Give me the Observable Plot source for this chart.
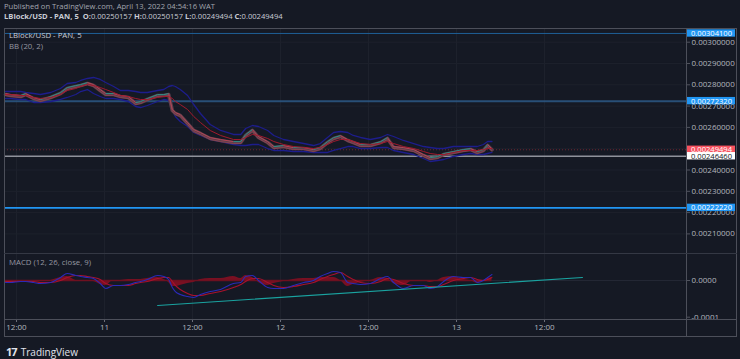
<!DOCTYPE html>
<html><head><meta charset="utf-8">
<script src="https://cdn.jsdelivr.net/npm/d3@7"></script>
<script src="https://cdn.jsdelivr.net/npm/@observablehq/plot@0.6"></script>
<style>
html,body{margin:0;padding:0;background:#151924;}
#root{position:relative;width:740px;height:359px;overflow:hidden;background:#151924;font-family:"Open Sans","Noto Sans",sans-serif;}
.abs{position:absolute;white-space:nowrap;}
.ln{position:absolute;}
</style></head><body><div id="root"></div>
<script>
// ---------- data ----------
const times = [
 "2022-04-10T10:30Z","2022-04-10T11:10Z","2022-04-10T12:35Z","2022-04-10T13:15Z","2022-04-10T14:20Z","2022-04-10T15:15Z","2022-04-10T16:40Z","2022-04-10T18:00Z","2022-04-10T18:55Z","2022-04-10T20:05Z",
 "2022-04-10T20:45Z","2022-04-10T21:40Z","2022-04-10T22:30Z","2022-04-10T23:25Z","2022-04-11T00:10Z","2022-04-11T01:15Z","2022-04-11T02:10Z","2022-04-11T03:15Z","2022-04-11T04:15Z","2022-04-11T04:55Z",
 "2022-04-11T05:50Z","2022-04-11T07:15Z","2022-04-11T08:05Z","2022-04-11T08:45Z","2022-04-11T09:15Z","2022-04-11T09:40Z","2022-04-11T10:20Z","2022-04-11T11:20Z","2022-04-11T12:10Z","2022-04-11T13:05Z",
 "2022-04-11T14:25Z","2022-04-11T15:50Z","2022-04-11T17:35Z","2022-04-11T18:35Z","2022-04-11T19:15Z","2022-04-11T20:10Z","2022-04-11T21:00Z","2022-04-11T22:15Z","2022-04-11T23:05Z","2022-04-12T00:25Z",
 "2022-04-12T01:45Z","2022-04-12T03:10Z","2022-04-12T04:30Z","2022-04-12T05:25Z","2022-04-12T06:25Z","2022-04-12T07:15Z","2022-04-12T08:10Z","2022-04-12T09:10Z","2022-04-12T09:55Z","2022-04-12T10:55Z",
 "2022-04-12T12:15Z","2022-04-12T13:40Z","2022-04-12T14:35Z","2022-04-12T15:25Z","2022-04-12T16:45Z","2022-04-12T18:10Z","2022-04-12T19:30Z","2022-04-12T20:25Z","2022-04-12T21:25Z","2022-04-12T22:15Z",
 "2022-04-12T23:35Z","2022-04-13T00:55Z","2022-04-13T01:55Z","2022-04-13T02:50Z","2022-04-13T03:40Z","2022-04-13T04:15Z","2022-04-13T04:50Z"];
const closes = [
 0.0027545,0.0027498,0.0027451,0.0027545,0.0027357,0.0027263,0.0027404,0.0027592,0.0027826,0.0027920,
 0.0027967,0.0028061,0.0027967,0.0027732,0.0027545,0.0027545,0.0027451,0.0027404,0.0027122,0.0027169,
 0.0027310,0.0027498,0.0027498,0.0027545,0.0026793,0.0026653,0.0026559,0.0026183,0.0025855,0.0025714,
 0.0025479,0.0025385,0.0025291,0.0025291,0.0025620,0.0025855,0.0025526,0.0025291,0.0025056,0.0025103,
 0.0025009,0.0025009,0.0024916,0.0025009,0.0025291,0.0025479,0.0025573,0.0025385,0.0025291,0.0025150,
 0.0025150,0.0025291,0.0025479,0.0025056,0.0025009,0.0024916,0.0024681,0.0024540,0.0024587,0.0024728,
 0.0024822,0.0024916,0.0024962,0.0024822,0.0024916,0.0025150,0.0024949];
const bbUpper = [
 0.0027685,0.0027685,0.0027685,0.0027639,0.0027592,0.0027545,0.0027639,0.0027826,0.0028061,0.0028108,
 0.0028202,0.0028296,0.0028343,0.0028249,0.0028108,0.0027920,0.0027732,0.0027732,0.0027685,0.0027639,
 0.0027639,0.0027732,0.0027779,0.0027920,0.0027967,0.0027920,0.0027779,0.0027498,0.0027075,0.0026653,
 0.0026136,0.0025855,0.0025667,0.0025667,0.0025948,0.0026089,0.0026042,0.0025855,0.0025620,0.0025432,
 0.0025338,0.0025244,0.0025150,0.0025244,0.0025526,0.0025761,0.0025808,0.0025761,0.0025620,0.0025526,
 0.0025432,0.0025526,0.0025667,0.0025573,0.0025385,0.0025244,0.0025103,0.0025056,0.0025009,0.0025009,
 0.0025103,0.0025103,0.0025103,0.0025103,0.0025197,0.0025338,0.0025338];
const bbMid = [
 0.0027545,0.0027545,0.0027498,0.0027498,0.0027404,0.0027357,0.0027404,0.0027545,0.0027732,0.0027826,
 0.0027920,0.0028014,0.0027967,0.0027873,0.0027779,0.0027639,0.0027498,0.0027451,0.0027357,0.0027310,
 0.0027310,0.0027404,0.0027451,0.0027451,0.0027357,0.0027216,0.0027075,0.0026840,0.0026512,0.0026230,
 0.0025855,0.0025620,0.0025432,0.0025432,0.0025526,0.0025667,0.0025620,0.0025479,0.0025338,0.0025197,
 0.0025103,0.0025056,0.0025009,0.0025056,0.0025197,0.0025338,0.0025432,0.0025432,0.0025338,0.0025244,
 0.0025197,0.0025244,0.0025338,0.0025244,0.0025103,0.0025009,0.0024869,0.0024775,0.0024728,0.0024728,
 0.0024822,0.0024916,0.0024916,0.0024916,0.0024962,0.0025009,0.0025009];
const bbLower = [
 0.0027357,0.0027357,0.0027310,0.0027310,0.0027169,0.0027169,0.0027216,0.0027310,0.0027404,0.0027545,
 0.0027685,0.0027779,0.0027592,0.0027451,0.0027357,0.0027357,0.0027310,0.0027216,0.0026981,0.0026934,
 0.0027028,0.0027216,0.0027310,0.0027263,0.0026793,0.0026512,0.0026277,0.0026042,0.0025761,0.0025620,
 0.0025432,0.0025338,0.0025197,0.0025150,0.0025150,0.0025197,0.0025197,0.0025009,0.0024916,0.0024916,
 0.0024869,0.0024869,0.0024822,0.0024822,0.0024822,0.0024916,0.0025009,0.0025103,0.0025103,0.0025009,
 0.0025009,0.0025056,0.0025056,0.0024916,0.0024822,0.0024728,0.0024540,0.0024399,0.0024446,0.0024493,
 0.0024634,0.0024728,0.0024775,0.0024728,0.0024728,0.0024775,0.0024822];
const macdLine = [
 -5.4e-6,-5.4e-6,-2.7e-6,-2.7e-6,-5.4e-6,-8.2e-6,-5.4e-6,8.2e-6,1.91e-5,1.36e-5,
 1.09e-5,8.2e-6,5.4e-6,-8.2e-6,-2.18e-5,-1.36e-5,-1.36e-5,-1.09e-5,-5.4e-6,-2.7e-6,
 2.7e-6,1.36e-5,1.09e-5,2.7e-6,-1.91e-5,-3.0e-5,-3.82e-5,-4.36e-5,-4.63e-5,-3.82e-5,
 -3.0e-5,-2.45e-5,-8.2e-6,-5.4e-6,1.09e-5,1.36e-5,0,-1.91e-5,-2.18e-5,-2.18e-5,
 -1.36e-5,-5.4e-6,0,1.09e-5,1.91e-5,2.45e-5,2.18e-5,-5.4e-6,-8.2e-6,-1.09e-5,
 -8.2e-6,5.4e-6,1.09e-5,-5.4e-6,-2.18e-5,-1.36e-5,-1.36e-5,-2.18e-5,-1.64e-5,-2.7e-6,
 1.09e-5,8.2e-6,8.2e-6,-5.4e-6,0,8.2e-6,1.64e-5];
const signalLine = [
 -2.7e-6,-2.7e-6,-2.7e-6,-2.7e-6,-2.7e-6,-5.4e-6,-5.4e-6,0,8.2e-6,1.36e-5,
 1.36e-5,1.09e-5,8.2e-6,2.7e-6,-8.2e-6,-1.36e-5,-1.36e-5,-1.36e-5,-8.2e-6,-5.4e-6,
 -2.7e-6,5.4e-6,8.2e-6,8.2e-6,-2.7e-6,-1.36e-5,-2.45e-5,-3.54e-5,-4.09e-5,-4.09e-5,
 -3.54e-5,-3.0e-5,-1.91e-5,-1.09e-5,-2.7e-6,5.4e-6,5.4e-6,-5.4e-6,-1.36e-5,-1.91e-5,
 -1.64e-5,-1.09e-5,-5.4e-6,2.7e-6,1.09e-5,1.64e-5,2.18e-5,1.09e-5,2.7e-6,-5.4e-6,
 -8.2e-6,-2.7e-6,5.4e-6,2.7e-6,-8.2e-6,-1.36e-5,-1.36e-5,-1.64e-5,-1.64e-5,-1.09e-5,
 0,5.4e-6,8.2e-6,2.7e-6,0,2.7e-6,8.2e-6];
const trendTimes = ["2022-04-11T07:15Z","2022-04-13T17:10Z"];
const trendValues = [-6.81e-5, 8.2e-6];

// 0.0025 is hidden under the last-price label in the reference, so it is not listed
const priceTicks = [0.0021,0.0022,0.0023,0.0024,0.0026,0.0027,0.0028,0.0029,0.0030];
const gridPrices = [0.0021,0.0022,0.0023,0.0024,0.0025,0.0026,0.0027,0.0028,0.0029,0.0030];
const blueLevels = [0.003041, 0.0027232, 0.0022222];
const lastPrice = 0.00249494;
const markPrice = 0.0024646;
const macdTicks = [0, -0.0001];
const macdTickLabels = ["0.0000", "-0.0001"];
const timeTicks = ["2022-04-10T12:00Z","2022-04-11T00:00Z","2022-04-11T12:00Z","2022-04-12T00:00Z","2022-04-12T12:00Z","2022-04-13T00:00Z","2022-04-13T12:00Z"];
const timeTickLabels = ["12:00","11","12:00","12","12:00","13","12:00"];

// ---------- build ----------
const root = document.getElementById("root");
const P = times.map((t, i) => ({t: new Date(t), c: closes[i], up: bbUpper[i], mid: bbMid[i], lo: bbLower[i],
  m: macdLine[i], s: signalLine[i], h: macdLine[i] - signalLine[i], prev: i ? closes[i-1] : closes[i], pt: i ? new Date(times[i-1]) : new Date(t)}));
const xDomain = [new Date("2022-04-10T10:21:49Z"), new Date("2022-04-14T07:21:49Z")];
const tickDates = timeTicks.map(d => new Date(d));
const tickLabelMap = new Map(tickDates.map((d, i) => [+d, timeTickLabels[i]]));
const fmt8 = d3.format(".8f");
const grid = "#1d212c";
const style = {background: "transparent", color: "#b2b5be", fontFamily: "'Open Sans','Noto Sans',sans-serif", fontSize: "8px", overflow: "visible"};

const boxes = [
  ...blueLevels.map(p => ({p, bg: "#2196f3", fg: "#ffffff"})),
  {p: lastPrice, bg: "#f7525f", fg: "#ffffff"},
  {p: markPrice, bg: "#ffffff", fg: "#131722"}
];

const main = Plot.plot({
  width: 733, height: 225, marginLeft: 0, marginRight: 51, marginTop: 0, marginBottom: 0,
  x: {type: "utc", domain: xDomain, axis: null},
  y: {domain: [0.002008, 0.0030643]},
  style,
  marks: [
    Plot.ruleX(tickDates, {stroke: grid}),
    Plot.ruleY(gridPrices, {stroke: grid}),
    Plot.ruleY([blueLevels[0]], {stroke: "#1f5f96", strokeWidth: 1}),
    Plot.ruleY([blueLevels[1]], {stroke: "#2d5c8c", strokeWidth: 2, strokeOpacity: 0.8}),
    Plot.ruleY([blueLevels[2]], {stroke: "#2196f3", strokeWidth: 1.6}),
    Plot.ruleY([markPrice], {stroke: "#8f929b", strokeWidth: 1.6}),
    Plot.ruleY([lastPrice], {stroke: "#6e2430", strokeWidth: 1, strokeDasharray: "1,2"}),
    Plot.line(P, {x: "t", y: "up", stroke: "#1d1d8c", strokeWidth: 1.3}),
    Plot.line(P, {x: "t", y: "lo", stroke: "#1d1d8c", strokeWidth: 1.3}),
    Plot.line(P, {x: "t", y: "c", stroke: "#5b3d4a", strokeWidth: 3.6, strokeLinejoin: "round"}),
    Plot.link(P, {x1: "pt", y1: "prev", x2: "t", y2: "c", stroke: d => d.c >= d.prev ? "#2f8f88" : "#b44656", strokeWidth: 1, dy: -0.9}),
    Plot.line(P, {x: "t", y: "c", stroke: "#a84656", strokeWidth: 0.9, dy: 1, strokeOpacity: 0.6}),
    Plot.line(P, {x: "t", y: "mid", stroke: "#a0192d", strokeWidth: 1}),
    Plot.axisY({ticks: priceTicks, anchor: "right", tickFormat: fmt8, tickSize: 3, tickPadding: 2, label: null, stroke: "#50535e", fontSize: 8}),
    Plot.rect(boxes, {x1: () => xDomain[1], x2: () => xDomain[1], y1: "p", y2: "p", fill: "bg", insetLeft: 1, insetRight: -49, insetTop: -3.7, insetBottom: -3.7}),
    Plot.text(boxes, {y: "p", frameAnchor: "right", text: d => fmt8(d.p), fill: "fg", dx: 25, fontSize: 7.6, textAnchor: "middle"})
  ]
});

const macd = Plot.plot({
  width: 733, height: 84, marginLeft: 0, marginRight: 51, marginTop: 0, marginBottom: 18,
  x: {type: "utc", domain: xDomain},
  y: {domain: [-1.063e-4, 7.36e-5]},
  style,
  marks: [
    Plot.ruleX(tickDates, {stroke: grid}),
    Plot.ruleY([0], {stroke: "#232734"}),
    Plot.areaY(P, {x: "t", y: "h", fill: "#7a1022", curve: "monotone-x"}),
    Plot.ruleY([0], {x1: xDomain[0], x2: P[P.length - 1].t, stroke: "#6e1020", strokeWidth: 1.6}),
    Plot.line(P, {x: "t", y: "s", stroke: "#a8112c", strokeWidth: 1.1, curve: "monotone-x"}),
    Plot.line(P, {x: "t", y: "m", stroke: "#2a2ab8", strokeWidth: 1.1, curve: "monotone-x"}),
    Plot.line(trendTimes.map((t, i) => ({t: new Date(t), v: trendValues[i]})), {x: "t", y: "v", stroke: "#1aa3a0", strokeWidth: 1.2}),
    Plot.axisY({ticks: macdTicks, anchor: "right", tickFormat: (d) => macdTickLabels[macdTicks.indexOf(d)], tickSize: 3, tickPadding: 2, label: null, stroke: "#50535e", fontSize: 8}),
    Plot.axisX({ticks: tickDates, anchor: "bottom", tickFormat: d => tickLabelMap.get(+d), tickSize: 3, tickPadding: 2, label: null, stroke: "#6a6d78", fontSize: 8})
  ]
});

function place(el, left, top) { el.style.position = "absolute"; el.style.left = left + "px"; el.style.top = top + "px"; root.appendChild(el); }
place(main, 4, 28);
place(macd, 4, 253);

function div(html, css) { const d = document.createElement("div"); d.className = "abs"; d.innerHTML = html; d.style.cssText += css; root.appendChild(d); return d; }
function line(l, t, w, h, c) { const d = document.createElement("div"); d.className = "ln"; d.style.cssText = `left:${l}px;top:${t}px;width:${w}px;height:${h}px;background:${c};`; root.appendChild(d); }

// frames
line(4, 28, 733, 1, "#4c4f5a");
line(4, 336, 733, 1, "#4c4f5a");
line(4, 28, 1, 309, "#4c4f5a");
line(736, 28, 1, 309, "#4c4f5a");
line(686, 28, 1, 309, "#4c4f5a");
line(4, 253, 733, 1, "#343844");
line(4, 319, 733, 1, "#4c4f5a");

// texts
div("Published on TradingView.com, April 13, 2022 04:54:16 WAT", "left:4px;top:1px;font-size:7.6px;color:#a3a6af;");
div("<b>LBlock/USD - PAN, 5</b>&nbsp; <b>O:</b>0.00250157 <b>H:</b>0.00250157 <b>L:</b>0.00249494 <b>C:</b>0.00249494", "left:4px;top:11px;font-size:7.6px;color:#c9ccd4;");
div("LBlock/USD - PAN, 5", "left:9px;top:30px;font-size:7.8px;color:#c9ccd4;");
div("BB (20, 2)", "left:9px;top:41px;font-size:7.8px;color:#9598a1;");
div("MACD (12, 26, close, 9)", "left:9px;top:257px;font-size:7.8px;color:#9598a1;");
div("<b style='font-size:11px;letter-spacing:-1px'>17</b> <span style='font-size:10px'>TradingView</span>", "left:6px;top:339px;color:#e0e3eb;");
</script></body></html>
